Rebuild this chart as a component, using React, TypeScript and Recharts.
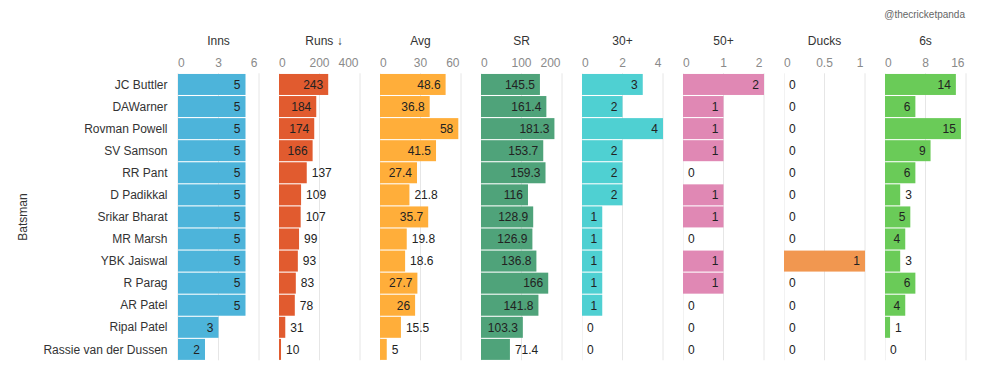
import React from 'react';
import { BarChart, Bar, XAxis, YAxis, CartesianGrid } from 'recharts';

const batsmen = [
  'JC Buttler', 'DAWarner', 'Rovman Powell', 'SV Samson', 'RR Pant', 'D Padikkal',
  'Srikar Bharat', 'MR Marsh', 'YBK Jaiswal', 'R Parag', 'AR Patel', 'Ripal Patel',
  'Rassie van der Dussen',
];
const inns = [5, 5, 5, 5, 5, 5, 5, 5, 5, 5, 5, 3, 2];
const runs = [243, 184, 174, 166, 137, 109, 107, 99, 93, 83, 78, 31, 10];
const avg = [48.6, 36.8, 58, 41.5, 27.4, 21.8, 35.7, 19.8, 18.6, 27.7, 26, 15.5, 5];
const sr = [145.5, 161.4, 181.3, 153.7, 159.3, 116, 128.9, 126.9, 136.8, 166, 141.8, 103.3, 71.4];
const thirties = [3, 2, 4, 2, 2, 2, 1, 1, 1, 1, 1, 0, 0];
const fifties = [2, 1, 1, 1, 0, 1, 1, 0, 1, 1, 0, 0, 0];
const ducks = [0, 0, 0, 0, 0, 0, 0, 0, 1, 0, 0, 0, 0];
const sixes = [14, 6, 15, 9, 6, 3, 5, 4, 3, 6, 4, 1, 0];

const titles = ['Inns', 'Runs ↓', 'Avg', 'SR', '30+', '50+', 'Ducks', '6s'];
const tickSets = [
  [0, 3, 6], [0, 200, 400], [0, 30, 60], [0, 100, 200],
  [0, 2, 4], [0, 1, 2], [0, 0.5, 1], [0, 8, 16],
];
const colors = ['#4db4da', '#e15b2f', '#ffae3a', '#4fa37a', '#4fd0d2', '#e088b4', '#f19750', '#6acb58'];
const seriesList = [inns, runs, avg, sr, thirties, fifties, ducks, sixes];

const rows = batsmen.map((name, i) => {
  const r: any = { name };
  seriesList.forEach((s, k) => { r['v' + k] = s[i]; });
  return r;
});

const FONT = '"Liberation Sans", Arial, Helvetica, sans-serif';
const W = 998;
const H = 376;
const FIRST_X = 178;
const STEP = 101;
const PANEL_W = 81;
const PLOT_TOP = 73.3;
const PLOT_BOTTOM = 360.3;
const RIGHT_PAD = 18;

const charW = (s: string) => {
  let w = 0;
  for (const c of s) w += c === '.' ? 3.33 : 6.67;
  return w;
};

const makeTick = (ticks: number[]) => (props: any) => {
  const { x, payload } = props;
  const idx = ticks.indexOf(payload.value);
  const anchor = idx === 0 ? 'start' : idx === ticks.length - 1 ? 'end' : 'middle';
  const dx = idx === 0 ? 0 : idx === ticks.length - 1 ? -1.5 : 0;
  return (
    <text x={x + dx} y={66.5} textAnchor={anchor} fontSize={12} fill="#8a8a8a" fontFamily={FONT}>
      {payload.value}
    </text>
  );
};

const makeShape = (k: number) => (props: any) => {
  const { x, y, width, height, payload } = props;
  const value = payload ? payload['v' + k] : props.value;
  const txt = String(value);
  const tw = charW(txt);
  const w = Math.max(0, Number(width) || 0);
  const inside = w - tw >= 10;
  const lx = inside ? x + w - 5 : x + w + 5;
  return (
    <g>
      {w > 0 && <rect x={x} y={y} width={w} height={height} fill={colors[k]} />}
      <text x={lx} y={y + height / 2} dy="0.36em" textAnchor={inside ? 'end' : 'start'}
        fontSize={12} fill="#222" fontFamily={FONT}>
        {txt}
      </text>
    </g>
  );
};

const Panel = ({ k }: { k: number }) => {
  const first = k === 0;
  const ticks = tickSets[k];
  const left = first ? 0 : FIRST_X + STEP * k;
  const yw = first ? FIRST_X : 0;
  const width = yw + PANEL_W + RIGHT_PAD;
  return (
    <div style={{ position: 'absolute', left, top: 0, width, height: H }}>
      <BarChart
        width={width}
        height={H}
        data={rows}
        layout="vertical"
        margin={{ top: 0, right: RIGHT_PAD, bottom: H - PLOT_BOTTOM, left: 0 }}
        barCategoryGap="3%"
      >
        <CartesianGrid horizontal={false} stroke="#e6e6e6" />
        <XAxis
          type="number"
          orientation="top"
          domain={[ticks[0], ticks[ticks.length - 1]]}
          ticks={ticks}
          height={PLOT_TOP}
          axisLine={false}
          tickLine={false}
          tickSize={0}
          tick={makeTick(ticks)}
          interval={0}
          allowDataOverflow
        />
        <YAxis
          type="category"
          dataKey="name"
          width={yw}
          hide={!first}
          axisLine={false}
          tickLine={false}
          tickSize={0}
          tickMargin={10.5}
          interval={0}
          tick={{ fontSize: 12, fill: '#333', fontFamily: FONT }}
        />
        <Bar dataKey={'v' + k} fill={colors[k]} isAnimationActive={false} shape={makeShape(k)} />
      </BarChart>
    </div>
  );
};

export default function App() {
  return (
    <div style={{ position: 'absolute', left: 0, top: 0, width: W, height: H, background: '#fff', fontFamily: FONT }}>
      {seriesList.map((_, k) => <Panel key={k} k={k} />)}
      <svg width={W} height={H} style={{ position: 'absolute', left: 0, top: 0, pointerEvents: 'none' }}>
        <text x={965} y={18} textAnchor="end" fontSize={10} fill="#666" fontFamily={FONT}>@thecricketpanda</text>
        {titles.map((t, k) => (
          <text key={t} x={FIRST_X + STEP * k + PANEL_W / 2 + (k === 1 ? 4.5 : 0)} y={45.3}
            textAnchor="middle" fontSize={12} fill="#333" fontFamily={FONT}>{t}</text>
        ))}
        <text x={23} y={217} dy="0.36em" textAnchor="middle" fontSize={12} fill="#333" fontFamily={FONT}
          transform="rotate(-90, 23, 217)">Batsman</text>
      </svg>
    </div>
  );
}
